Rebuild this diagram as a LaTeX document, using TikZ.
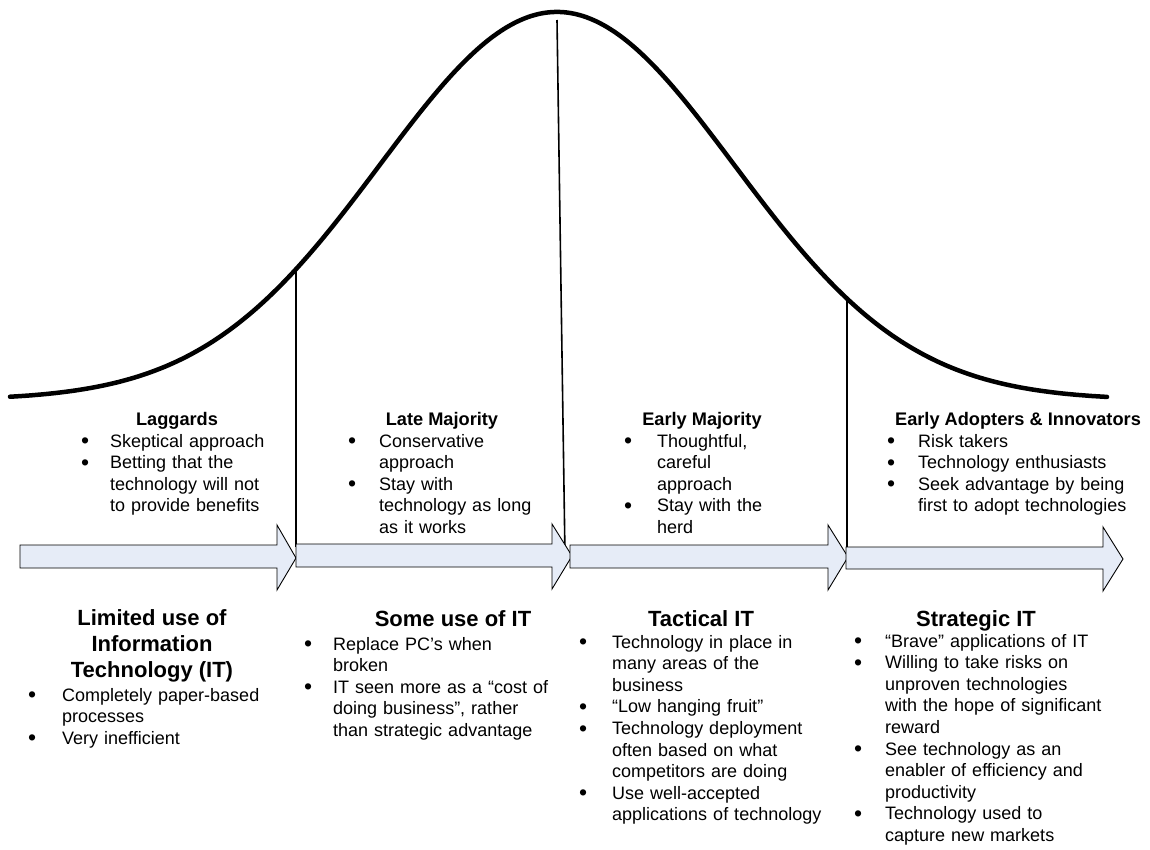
\documentclass[tikz,border=0pt]{standalone}
\usepackage{fontspec}
\setmainfont{Liberation Sans}
\newlength{\bti}
\newlength{\bbo}
\setlength{\bti}{28pt}
\setlength{\bbo}{-1pt}
\newcommand{\bigdot}{\raisebox{-1.6pt}{\fontsize{23}{0}\selectfont\textbullet}}
\newcommand{\bul}[1]{\noindent\hangindent=\bti\hangafter=1\hbox to \bti{\hskip\bbo\bigdot\hfil}#1\par}
\begin{document}
\begin{tikzpicture}[x=1pt,y=-1pt,
  curve/.style={line width=4.5pt, line cap=round},
  divider/.style={line width=1.6pt},
  arrowshape/.style={draw=black, line width=0.9pt, fill=arrowfill, line join=miter},
  head/.style={font=\fontsize{18.2}{21.6}\selectfont\bfseries, anchor=base, inner sep=0pt},
  title/.style={font=\fontsize{22}{25.8}\selectfont\bfseries, anchor=base, inner sep=0pt, align=center},
  body/.style={font=\fontsize{18}{21.6}\selectfont, anchor=base west, inner sep=0pt, text width=#1},
  body/.default=300pt]
\definecolor{arrowfill}{HTML}{E6ECF7}
\useasboundingbox (0,0) rectangle (1150,849);
\fill[white] (0,0) rectangle (1150,849);

% bell curve
\draw[curve] plot[domain=10:1107, samples=220, smooth] (\x, {400-388*exp(-0.5*((\x-557)/177)^2)});
\coordinate (c1) at (296, {400-388*exp(-0.5*((296-557)/177)^2)});
\coordinate (c2) at (557, 20);
\coordinate (c3) at (847, {400-388*exp(-0.5*((847-557)/177)^2)});
\coordinate (d1) at (296, 547);
\coordinate (d2) at (565, 556);
\coordinate (d3) at (847, 550);
\draw[divider] (c1) -- (d1);
\draw[divider] (c2) -- (d2);
\draw[divider] (c3) -- (d3);

% arrows
\draw[arrowshape] (20,545) -- (277,545) -- (277,525) -- (296,558) -- (277,590) -- (277,568) -- (20,568) -- cycle;
\draw[arrowshape] (296,544) -- (552,544) -- (552,524) -- (572,556) -- (552,589) -- (552,567) -- (296,567) -- cycle;
\draw[arrowshape] (570,545) -- (828,545) -- (828,525) -- (848,557) -- (828,590) -- (828,568) -- (570,568) -- cycle;
\draw[arrowshape] (846,547) -- (1103,547) -- (1103,527) -- (1123,559) -- (1103,591) -- (1103,569) -- (846,569) -- cycle;

% top headers
\node[head] (h1) at (177,425) {Laggards};
\node[head] (h2) at (442,425) {Late Majority};
\node[head] (h3) at (702,425) {Early Majority};
\node[head] (h4) at (1018,425) {Early Adopters \& Innovators};

% top bullets
\node[body] (t1) at (82,447) {\bul{Skeptical approach}\bul{Betting that the\newline technology will not\newline to provide benefits}};
\node[body] (t2) at (349,447) {\setlength{\bti}{30pt}\bul{Conservative\newline approach}\bul{Stay with\newline technology as long\newline as it works}};
\node[body] (t3) at (625,447) {\setlength{\bti}{32pt}\bul{Thoughtful,\newline careful\newline approach}\bul{Stay with the\newline herd}};
\node[body] (t4) at (888,447) {\setlength{\bti}{30pt}\bul{Risk takers}\bul{Technology enthusiasts}\bul{Seek advantage by being\newline first to adopt technologies}};

% bottom titles
\node[title] (b1) at (152,677) {Limited use of\\Information\\Technology (IT)};
\node[title] (b2) at (453,626) {Some use of IT};
\node[title] (b3) at (701,626) {Tactical IT};
\node[title] (b4) at (976,626) {Strategic IT};

% bottom bullets
\node[body] (l1) at (29,701) {\setlength{\bti}{33pt}\bul{Completely paper-based\newline processes}\bul{Very inefficient}};
\node[body] (l2) at (305,650) {\setlength{\bti}{28pt}\bul{Replace PC’s when\newline broken}\bul{IT seen more as a “cost of\newline doing business”, rather\newline than strategic advantage}};
\node[body] (l3) at (580,648) {\setlength{\bti}{32pt}\bul{Technology in place in\newline many areas of the\newline business}\bul{“Low hanging fruit”}\bul{Technology deployment\newline often based on what\newline competitors are doing}\bul{Use well-accepted\newline applications of technology}};
\node[body] (l4) at (855,647) {\setlength{\bti}{30pt}\bul{“Brave” applications of IT}\bul{Willing to take risks on\newline unproven technologies\newline with the hope of significant\newline reward}\bul{See technology as an\newline enabler of efficiency and\newline productivity}\bul{Technology used to\newline capture new markets}};
\end{tikzpicture}
\end{document}
